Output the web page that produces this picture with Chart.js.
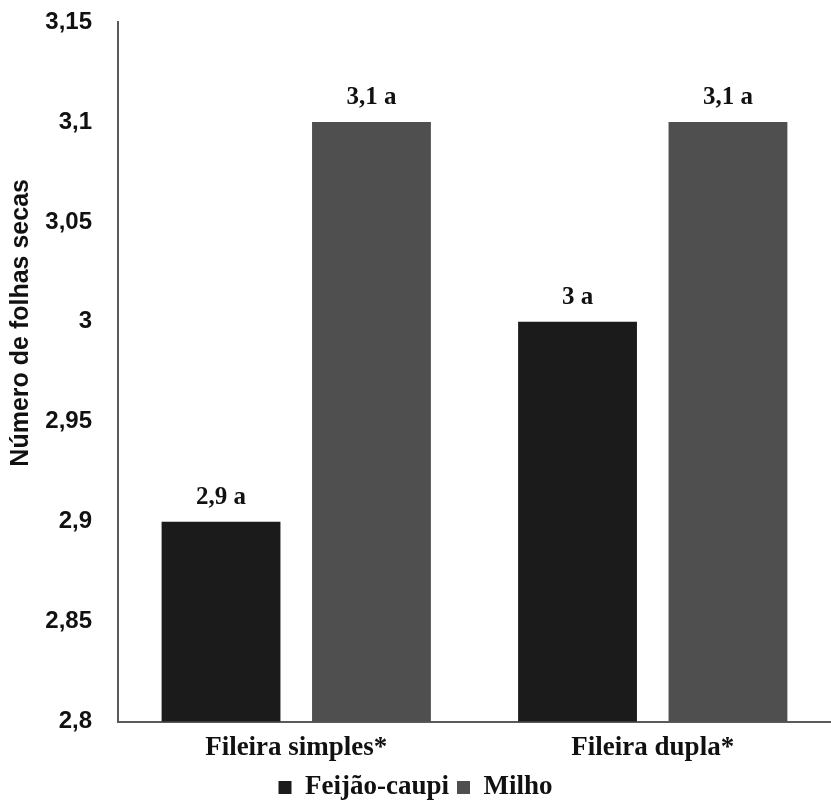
<!DOCTYPE html>
<html>
<head>
<meta charset="utf-8">
<script src="https://cdn.jsdelivr.net/npm/chart.js@4.4.1/dist/chart.umd.min.js"></script>
<style>
  body { margin: 0; background: #fff; }
  #wrap { width: 831px; height: 811px; position: relative; }
</style>
</head>
<body>
<div id="wrap"><canvas id="chart"></canvas></div>
<script>
// chart data
const categories = ['Fileira simples*', 'Fileira dupla*'];
const feijaoValues = [2.9, 3.0];
const milhoValues = [3.1, 3.1];
const feijaoLetters = ['a', 'a'];
const milhoLetters = ['a', 'a'];
const yMin = 2.8;
const yMax = 3.15;
const yStep = 0.05;

function fmt(v) {
    return String(Number(v.toFixed(2))).replace('.', ',');
}

// draws "value letter" above each bar
const barLabels = {
    id: 'barLabels',
    afterDatasetsDraw(chart) {
        const ctx = chart.ctx;
        ctx.save();
        ctx.font = 'bold 25px "Liberation Serif"';
        ctx.fillStyle = '#111';
        ctx.textAlign = 'center';
        ctx.textBaseline = 'bottom';
        chart.data.datasets.forEach((ds, i) => {
            chart.getDatasetMeta(i).data.forEach((bar, j) => {
                ctx.fillText(fmt(ds.data[j]) + ' ' + ds.letters[j], bar.x, bar.y - 12);
            });
        });
        ctx.restore();
    }
};

// y axis title, drawn a bit above the middle like the original
const yTitle = {
    id: 'yTitle',
    afterDraw(chart) {
        const ctx = chart.ctx;
        const area = chart.chartArea;
        ctx.save();
        ctx.translate(21, area.top + (area.bottom - area.top) * 0.43);
        ctx.rotate(-Math.PI / 2);
        ctx.font = 'bold 25px "Liberation Sans"';
        ctx.fillStyle = '#111';
        ctx.textAlign = 'center';
        ctx.textBaseline = 'middle';
        ctx.fillText('Número de folhas secas', 0, 0);
        ctx.restore();
    }
};

const ctx = document.getElementById('chart').getContext('2d');
const chart = new Chart(ctx, {
    type: 'bar',
    data: {
        labels: categories,
        datasets: [{
            label: 'Feijão-caupi',
            data: feijaoValues,
            letters: feijaoLetters,
            backgroundColor: '#1b1b1b',
            categoryPercentage: 0.844,
            barPercentage: 0.79
        }, {
            label: 'Milho',
            data: milhoValues,
            letters: milhoLetters,
            backgroundColor: '#4f4f4f',
            categoryPercentage: 0.844,
            barPercentage: 0.79
        }]
    },
    options: {
        responsive: true,
        maintainAspectRatio: false,
        animation: false,
        layout: {
            padding: { top: 22, right: 0, bottom: 0, left: 0 }
        },
        scales: {
            x: {
                grid: { display: false },
                border: { display: true, color: '#5a5a5a', width: 2 },
                ticks: {
                    color: '#111',
                    padding: 2,
                    font: { family: '"Liberation Serif"', weight: 'bold', size: 27 }
                }
            },
            y: {
                min: yMin,
                max: yMax,
                grid: {
                    display: true,
                    drawOnChartArea: false,
                    color: 'rgba(0,0,0,0)',
                    tickLength: 24
                },
                border: { display: true, color: '#5a5a5a', width: 2 },
                afterFit: function(scale) { scale.width = 118; },
                ticks: {
                    stepSize: yStep,
                    color: '#111',
                    padding: 2,
                    font: { family: '"Liberation Sans"', weight: 'bold', size: 24 },
                    callback: function(value) { return fmt(value); }
                }
            }
        },
        plugins: {
            legend: {
                position: 'bottom',
                labels: {
                    color: '#111',
                    boxWidth: 13,
                    boxHeight: 13,
                    padding: 8,
                    font: { family: '"Liberation Serif"', weight: 'bold', size: 27 }
                }
            },
            tooltip: { enabled: false }
        }
    },
    plugins: [barLabels, yTitle]
});
</script>
</body>
</html>
